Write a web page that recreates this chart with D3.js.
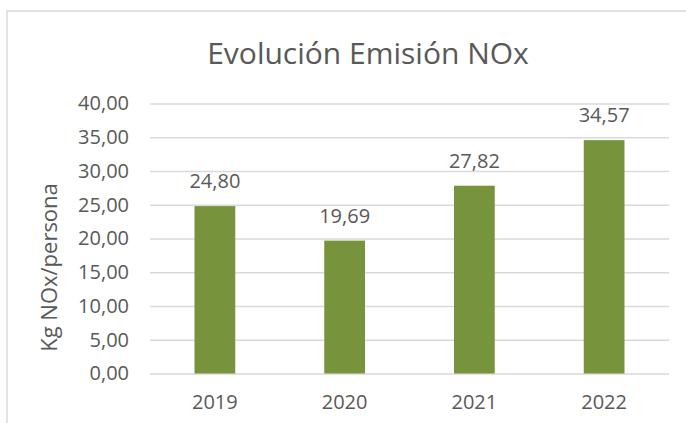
<!DOCTYPE html>
<html>
<head>
<meta charset="utf-8">
<script src="https://cdn.jsdelivr.net/npm/d3@7"></script>
<style>
  html, body { margin: 0; padding: 0; background: #fff; }
  svg { display: block; }
  text { font-family: "Open Sans", "Liberation Sans", sans-serif; fill: #595959; }
</style>
</head>
<body>
<svg id="chart" width="686" height="423"></svg>
<script>
// Kg of NOx emitted per person, by year
const years = ["2019", "2020", "2021", "2022"];
const emissions = [24.80, 19.69, 27.82, 34.57];
const yTicks = [0, 5, 10, 15, 20, 25, 30, 35, 40];
const chartTitle = "Evolución Emisión NOx";
const yAxisTitle = "Kg NOx/persona";

const W = 686, H = 423;
const plot = { left: 150, right: 669, top: 103.5, bottom: 373.5 };

const esLocale = d3.formatLocale({ decimal: ",", thousands: ".", grouping: [3], currency: ["", " €"] });
const fmt = esLocale.format(".2f");

const svg = d3.select("#chart");

// chart area frame
svg.append("rect")
  .attr("x", 7).attr("y", 11)
  .attr("width", W).attr("height", H)
  .attr("fill", "#fff")
  .attr("stroke", "#d9d9d9")
  .attr("stroke-width", 1.5);

const x = d3.scaleBand()
  .domain(years)
  .range([plot.left, plot.right])
  .paddingInner(0.686)
  .paddingOuter(0.343);

const y = d3.scaleLinear()
  .domain([0, 40])
  .range([plot.bottom, plot.top]);

// horizontal gridlines + tick labels
const yAxis = d3.axisLeft(y)
  .tickValues(yTicks)
  .tickSize(-(plot.right - plot.left))
  .tickPadding(21)
  .tickFormat(fmt);

const gy = svg.append("g")
  .attr("transform", `translate(${plot.left},0)`)
  .call(yAxis);
gy.select(".domain").remove();
gy.selectAll(".tick line").attr("stroke", "#d9d9d9").attr("stroke-width", 1.5);
gy.selectAll(".tick text")
  .attr("font-size", 20)
  .attr("fill", "#595959")
  .style("font-family", '"Open Sans", "Liberation Sans", sans-serif');

// category labels
const xAxis = d3.axisBottom(x).tickSize(0).tickPadding(0);
const gx = svg.append("g")
  .attr("transform", `translate(0,${plot.bottom})`)
  .call(xAxis);
gx.select(".domain").remove();
gx.selectAll(".tick text")
  .attr("dy", null)
  .attr("y", 35)
  .attr("font-size", 20)
  .attr("fill", "#595959")
  .style("font-family", '"Open Sans", "Liberation Sans", sans-serif');

// bars
const data = years.map((yr, i) => ({ year: yr, value: emissions[i] }));

svg.append("g")
  .selectAll("rect")
  .data(data)
  .join("rect")
  .attr("x", d => x(d.year))
  .attr("y", d => y(d.value))
  .attr("width", x.bandwidth())
  .attr("height", d => y(0) - y(d.value))
  .attr("fill", "#77933c");

// value labels above the bars
svg.append("g")
  .selectAll("text")
  .data(data)
  .join("text")
  .attr("x", d => x(d.year) + x.bandwidth() / 2)
  .attr("y", d => y(d.value) - 18)
  .attr("text-anchor", "middle")
  .attr("font-size", 20)
  .text(d => fmt(d.value));

// chart title
svg.append("text")
  .attr("x", 368)
  .attr("y", 64)
  .attr("text-anchor", "middle")
  .attr("font-size", 30)
  .text(chartTitle);

// value axis title
svg.append("text")
  .attr("transform", `translate(57,${(183 + 352) / 2}) rotate(-90)`)
  .attr("text-anchor", "middle")
  .attr("font-size", 22)
  .text(yAxisTitle);
</script>
</body>
</html>
